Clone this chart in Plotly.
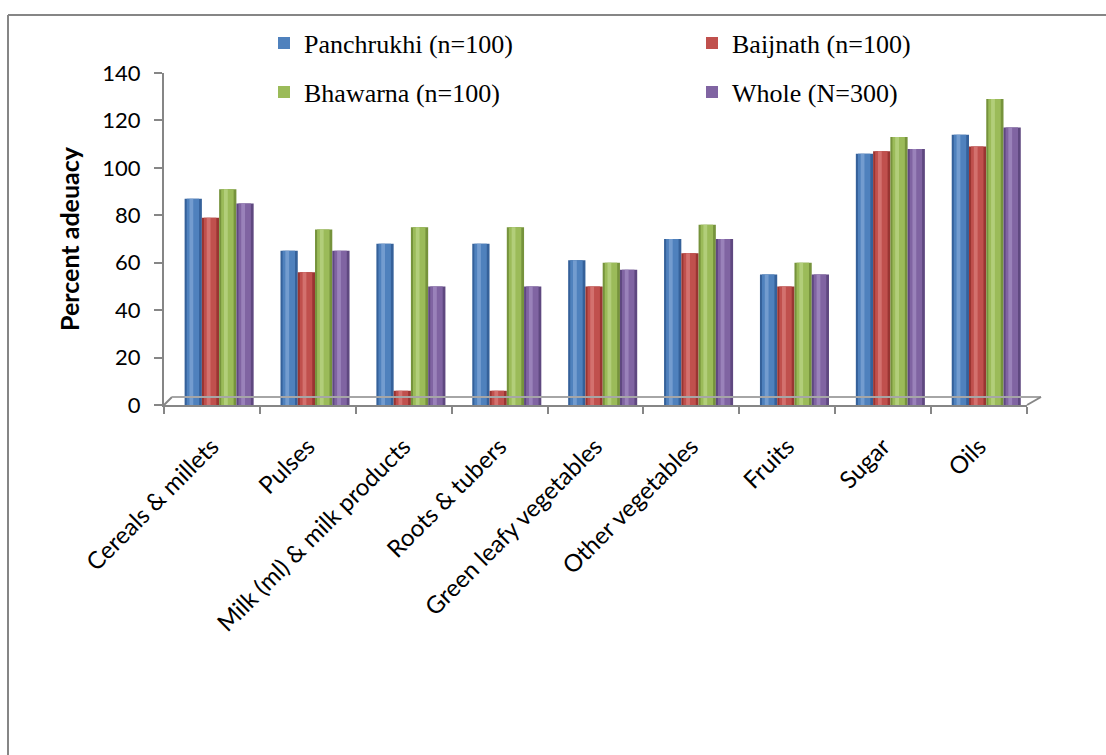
import plotly.graph_objects as go

# Food groups and percent adequacy per location
categories = [
    "Cereals & millets", "Pulses", "Milk (ml) & milk products", "Roots & tubers",
    "Green leafy vegetables", "Other vegetables", "Fruits", "Sugar", "Oils",
]
panchrukhi = [87, 65, 68, 68, 61, 70, 55, 106, 114]
baijnath = [79, 56, 6, 6, 50, 64, 50, 107, 109]
bhawarna = [91, 74, 75, 75, 60, 76, 60, 113, 129]
whole = [85, 65, 50, 50, 57, 70, 55, 108, 117]

series_names = ["Panchrukhi (n=100)", "Baijnath (n=100)", "Bhawarna (n=100)", "Whole (N=300)"]
series_values = [panchrukhi, baijnath, bhawarna, whole]
y_ticks = [0, 20, 40, 60, 80, 100, 120, 140]

# Base / edge / highlight shades for the cylinder look
base_colors = ["#4F81BD", "#C0504D", "#9BBB59", "#8064A2"]
edge_colors = ["#35619A", "#993532", "#76933C", "#5F4880"]
light_colors = ["#7FA6D6", "#DA7C79", "#BAD486", "#A38CC2"]

W, H = 1106, 755
PL, PR, PT, PB = 164, 1027, 73, 405


def px(x):
    return (x - PL) / (PR - PL)


def py(y):
    return (PB - y) / (PB - PT)


# legend slot for each series: (name, left x, centre y) in pixels
legend_slots = [("legend", 264, 43), ("legend2", 692, 43), ("legend3", 264, 92), ("legend4", 692, 92)]

fig = go.Figure()
bar_w = 0.18
depth_shift = 0.075
for i, (name, vals) in enumerate(zip(series_names, series_values)):
    off = -0.36 + depth_shift + i * bar_w
    # outer (shadowed) body
    fig.add_trace(go.Bar(x=categories, y=vals, width=bar_w, offset=off,
                         marker=dict(color=edge_colors[i], line=dict(width=0)),
                         showlegend=False, hoverinfo="skip"))
    # main body
    fig.add_trace(go.Bar(x=categories, y=vals, width=bar_w * 0.72, offset=off + bar_w * 0.12,
                         marker=dict(color=base_colors[i], line=dict(width=0)),
                         name=name, legend=legend_slots[i][0]))
    # highlight strip
    fig.add_trace(go.Bar(x=categories, y=vals, width=bar_w * 0.22, offset=off + bar_w * 0.28,
                         marker=dict(color=light_colors[i], line=dict(width=0), opacity=0.75),
                         showlegend=False, hoverinfo="skip"))

grey = "#868686"
shapes = [
    # 3D floor
    dict(type="line", xref="paper", yref="paper", x0=px(PL), y0=py(PB), x1=px(172), y1=py(397),
         line=dict(color=grey, width=2)),
    dict(type="line", xref="paper", yref="paper", x0=px(172), y0=py(397), x1=px(1041), y1=py(397),
         line=dict(color="#A6A6A6", width=2)),
    dict(type="line", xref="paper", yref="paper", x0=px(PR), y0=py(PB), x1=px(1041), y1=py(397),
         line=dict(color=grey, width=2)),
    # chart frame
    dict(type="line", xref="paper", yref="paper", x0=px(8), y0=py(15), x1=px(1106), y1=py(15),
         line=dict(color=grey, width=2)),
    dict(type="line", xref="paper", yref="paper", x0=px(8), y0=py(15), x1=px(8), y1=py(755),
         line=dict(color=grey, width=2)),
]

legend_common = dict(orientation="h", xanchor="left", yanchor="middle",
                     font=dict(family="Liberation Serif", size=26, color="black"),
                     bgcolor="rgba(0,0,0,0)", itemclick=False, itemdoubleclick=False)
legends = {key: dict(x=px(lx), y=py(ly), **legend_common) for key, lx, ly in legend_slots}

fig.update_layout(
    width=W, height=H,
    margin=dict(l=PL, r=W - PR, t=PT, b=H - PB, pad=0),
    paper_bgcolor="white", plot_bgcolor="white",
    barmode="overlay",
    shapes=shapes,
    **legends,
    xaxis=dict(
        type="category", range=[-0.5, len(categories) - 0.5],
        showline=True, linecolor=grey, linewidth=2,
        ticks="outside", tickson="boundaries", ticklen=7, tickcolor=grey, tickwidth=2,
        tickangle=-45, showgrid=False, zeroline=False, ticklabelstandoff=16,
        tickfont=dict(family="Lato", size=24, color="black"),
    ),
    yaxis=dict(
        range=[0, 140], tickvals=y_ticks,
        showline=True, linecolor=grey, linewidth=2,
        ticks="outside", ticklen=8, tickcolor=grey, tickwidth=2,
        showgrid=False, zeroline=False, ticklabelstandoff=9,
        tickfont=dict(family="Lato", size=22, color="black"),
        title=dict(text="<b>Percent adeuacy</b>", standoff=16,
                   font=dict(family="Lato", size=25, color="black")),
    ),
)

fig.write_html("out.html")
